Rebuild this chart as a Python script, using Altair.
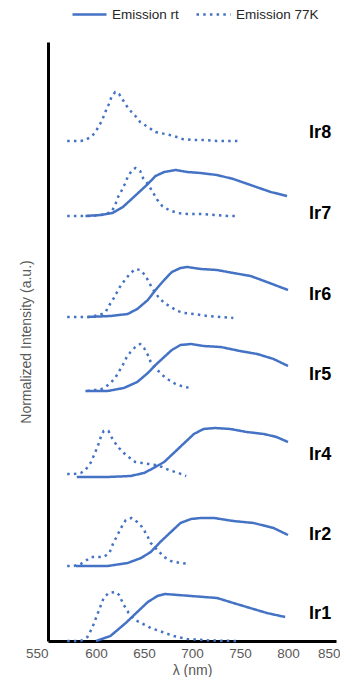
import altair as alt
import pandas as pd

# ---- data (wavelength in nm, intensity in a.u.) ----
compounds = ["Ir1", "Ir2", "Ir4", "Ir5", "Ir6", "Ir7", "Ir8"]
offsets = [0, 75, 164, 250, 324, 425, 500]
label_y = [27, 106, 186, 266, 346, 427, 508]

rt_wl = {
    "Ir1": [600, 615, 631, 643, 654, 664, 672, 699, 726, 750, 778, 797],
    "Ir2": [579, 612, 633, 647, 657, 667, 678, 688, 699, 709, 723, 743, 764, 785, 800],
    "Ir4": [580, 612, 636, 650, 660, 671, 681, 692, 702, 712, 724, 740, 757, 775, 788, 800],
    "Ir5": [589, 612, 629, 643, 654, 662, 671, 679, 688, 699, 712, 730, 750, 768, 785, 800],
    "Ir6": [591, 615, 633, 643, 654, 662, 671, 679, 688, 695, 709, 726, 743, 761, 778, 800],
    "Ir7": [589, 605, 617, 628, 636, 645, 654, 662, 671, 683, 695, 709, 726, 743, 761, 782, 799],
}
rt_int = {
    "Ir1": [0, 5, 18, 29, 39, 45, 47, 45, 43, 36, 28, 24],
    "Ir2": [0, 0, 3, 8, 14, 24, 34, 43, 47, 48, 48, 45, 43, 38, 31],
    "Ir4": [0, 0, 1, 4, 9, 15, 24, 34, 43, 48, 49, 48, 45, 43, 40, 35],
    "Ir5": [0, 0, 3, 9, 18, 26, 34, 41, 46, 47, 45, 44, 40, 37, 32, 25],
    "Ir6": [0, 1, 3, 8, 17, 27, 37, 45, 49, 50, 48, 47, 44, 41, 35, 27],
    "Ir7": [0, 1, 3, 9, 16, 24, 32, 40, 44, 46, 44, 43, 41, 37, 31, 24, 20],
}
lt_wl = {
    "Ir1": [570, 577, 584, 591, 596, 600, 604, 608, 613, 621, 624, 629, 634, 641, 657, 681, 695, 720, 750],
    "Ir2": [570, 577, 584, 589, 595, 602, 608, 614, 618, 622, 626, 631, 637, 643, 648, 653, 657, 664, 671, 678, 688, 697],
    "Ir4": [570, 577, 584, 589, 595, 598, 601, 603, 605, 608, 613, 616, 620, 624, 629, 634, 641, 648, 655, 662, 669, 676, 686, 694],
    "Ir5": [591, 598, 604, 610, 615, 620, 623, 628, 632, 636, 641, 646, 650, 654, 657, 662, 669, 676, 683, 692, 699],
    "Ir6": [570, 577, 584, 591, 598, 604, 610, 614, 618, 622, 626, 631, 635, 641, 646, 650, 654, 659, 665, 671, 678, 685, 692, 702, 716, 730, 743],
    "Ir7": [570, 577, 584, 591, 597, 604, 610, 616, 620, 623, 627, 630, 633, 637, 641, 646, 649, 654, 659, 664, 669, 676, 685, 695, 709, 723, 737, 748],
    "Ir8": [570, 577, 584, 589, 596, 600, 603, 606, 609, 611, 614, 616, 620, 624, 628, 632, 637, 641, 646, 654, 662, 672, 681, 690, 700, 712, 726, 737, 748],
}
lt_int = {
    "Ir1": [0, 0, 0, 4, 13, 23, 33, 43, 48, 49, 46, 36, 28, 21, 13, 5, 2, 0.5, 0],
    "Ir2": [0, 0, 2, 5, 9, 9, 9, 13, 23, 30, 38, 46, 48, 44, 39, 31, 23, 16, 9, 5, 3, 2],
    "Ir4": [3, 3, 4, 7, 15, 22, 29, 34, 40, 46, 46, 40, 34, 29, 24, 20, 15, 14, 13, 12, 10, 7, 4, 1],
    "Ir5": [0, 1, 1, 4, 8, 13, 18, 26, 34, 39, 44, 47, 43, 36, 29, 23, 16, 11, 7, 4, 3],
    "Ir6": [0, 0, 0, 0, 1, 2, 5, 12, 18, 25, 32, 38, 43, 48, 47, 43, 37, 28, 20, 14, 10, 6, 4, 3, 1, 0, -1],
    "Ir7": [0, 0, 0, 0, 0, 1, 2, 4, 11, 19, 26, 32, 39, 45, 48, 45, 38, 32, 24, 16, 10, 6, 3, 2, 2, 1, 0, 0],
    "Ir8": [0, 0, 0, 1, 5, 10, 15, 20, 27, 32, 38, 44, 49, 47, 41, 35, 29, 25, 19, 14, 9, 7, 5, 2, 1, 1, 0, 0, 0],
}
x_ticks = [550, 600, 650, 700, 750, 800, 850]
series_names = ["Emission rt", "Emission 77K"]

# ---- build table ----
rows = []
for c, off in zip(compounds, offsets):
    if c in rt_wl:
        for w, v in zip(rt_wl[c], rt_int[c]):
            rows.append({"cmp": c, "series": "Emission rt", "wl": w, "y": off + v, "key": c + " rt"})
    for w, v in zip(lt_wl[c], lt_int[c]):
        rows.append({"cmp": c, "series": "Emission 77K", "wl": w, "y": off + v, "key": c + " 77K"})
df = pd.DataFrame(rows)
labels = pd.DataFrame({"cmp": compounds, "y": label_y, "wl": [822] * len(compounds)})

BLUE = "#4472C4"
FONT = "Liberation Sans"
GREY = "#595959"

xscale = alt.Scale(domain=[550, 850], nice=False, zero=False)
yscale = alt.Scale(domain=[0, 599], nice=False, zero=False)

lines = alt.Chart(df).mark_line(color=BLUE, strokeWidth=2.5, strokeCap="butt").encode(
    x=alt.X("wl:Q", scale=xscale, axis=alt.Axis(
        values=x_ticks, title="λ (nm)", grid=False, ticks=False, labelFlush=False,
        labelAlign={"condition": {"test": "datum.value == 550 || datum.value == 850", "value": "right"},
                    "value": "center"},
        labelOffset={"condition": {"test": "datum.value == 850", "value": 4}, "value": 0},
        labelFontSize=13.5, labelColor=GREY, labelFont=FONT, labelPadding=5,
        domainColor="black", domainWidth=3,
        titleFontSize=14, titleFontWeight="normal", titleColor=GREY, titleFont=FONT,
        titleBaseline="alphabetic", titleY=33)),
    y=alt.Y("y:Q", scale=yscale, axis=alt.Axis(
        labels=False, ticks=False, grid=False, title="Normalized Intensity (a.u.)",
        domainColor="black", domainWidth=3,
        titleFontSize=14, titleFontWeight="normal", titleColor=GREY, titleFont=FONT, titlePadding=15)),
    detail="key:N",
    strokeDash=alt.StrokeDash("series:N",
        scale=alt.Scale(domain=series_names, range=[[1, 0], [2.5, 4.2]]),
        legend=alt.Legend(title=None, orient="none", direction="horizontal",
                          legendX=23, legendY=-46, symbolType="stroke", symbolSize=1156,
                          symbolStrokeColor=BLUE, symbolStrokeWidth=2.6,
                          labelFontSize=13.5, labelColor="#262626", labelFont=FONT,
                          labelOffset=4, columnPadding=12, padding=0)),
)

text = alt.Chart(labels).mark_text(
    align="left", baseline="middle", fontSize=18, fontWeight="bold", font=FONT, color="black"
).encode(x=alt.X("wl:Q", scale=xscale), y=alt.Y("y:Q", scale=yscale), text="cmp:N")

chart = alt.layer(lines, text).properties(
    width=288, height=599,
    padding={"left": 40, "top": 34, "right": 4, "bottom": 36},
    autosize=alt.AutoSizeParams(type="none"),
).configure_view(stroke=None)

chart.save("out.html", embed_options={"renderer": "svg", "actions": False})
